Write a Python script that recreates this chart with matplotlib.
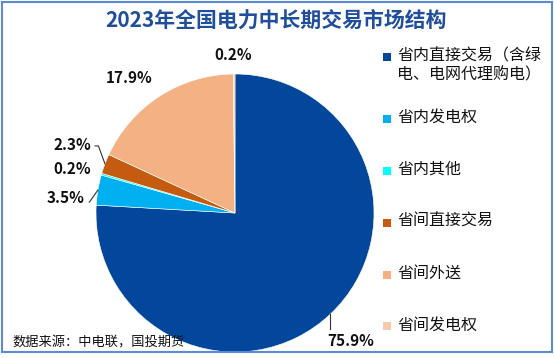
import numpy as np
import matplotlib
matplotlib.use("Agg")
import matplotlib.pyplot as plt
from matplotlib.patches import Rectangle

plt.rcParams['font.family'] = ['Noto Sans CJK SC', 'DejaVu Sans']

# data
categories = ["省内直接交易（含绿\n电、电网代理购电）", "省内发电权", "省内其他",
              "省间直接交易", "省间外送", "省间发电权"]
shares = [75.9, 3.5, 0.2, 2.3, 17.9, 0.2]
colors = ["#03479C", "#00B0F0", "#00FFFF", "#C55A11", "#F4B183", "#F8CBAD"]

# label placement (polar: radius factor, angle offset in degrees from wedge middle)
label_pos = [(1.243, -1.2), (1.221, 4.5), (1.215, 1.1), (1.271, -1.9), (1.235, 5.3), (1.137, 0.3)]
leader = ["down", "right", None, "right_bend", None, None]

W, H = 554, 358
fig = plt.figure(figsize=(W / 100, H / 100), dpi=100)

cx, cy, r = 235, 213, 139
ax = fig.add_axes([(cx - r) / W, (H - cy - r) / H, 2 * r / W, 2 * r / H])
wedges, _ = ax.pie(shares, colors=colors, startangle=90, counterclock=False,
                   radius=1.0, wedgeprops=dict(edgecolor="white", linewidth=0.4))
ax.set_xlim(-1, 1)
ax.set_ylim(-1, 1)
ax.set_aspect("equal")
ax.axis("off")

for w, v, (dist, dang), ld in zip(wedges, shares, label_pos, leader):
    mid = np.deg2rad((w.theta1 + w.theta2) / 2)
    lab = mid + np.deg2rad(dang)
    tx, ty = dist * np.cos(lab), dist * np.sin(lab)
    ex, ey = np.cos(mid), np.sin(mid)
    txt = f"{v:.1f}%"
    kw = dict(fontsize=11, fontweight="bold", color="#111111",
              ha="center", va="center", annotation_clip=False)
    if ld == "down":
        ax.annotate(txt, xy=(ex, ey), xytext=(tx, ty), **kw)
        ax.plot([ex, ex], [ey, ty + 0.09], color="#333333", lw=0.8, clip_on=False)
    elif ld == "right":
        ax.annotate(txt, xy=(ex, ey), xytext=(tx, ty),
                    arrowprops=dict(arrowstyle="-", color="#333333", lw=0.8,
                                    relpos=(1.0, 0.25), shrinkA=1, shrinkB=0,
                                    connectionstyle="angle,angleA=0,angleB=55,rad=0"),
                    **kw)
    elif ld == "right_bend":
        ax.annotate(txt, xy=(ex, ey), xytext=(tx, ty),
                    arrowprops=dict(arrowstyle="-", color="#333333", lw=0.8,
                                    relpos=(1.0, 0.45), shrinkA=1, shrinkB=0,
                                    connectionstyle="angle,angleA=0,angleB=110,rad=0"),
                    **kw)
    else:
        ax.annotate(txt, xy=(ex, ey), xytext=(tx, ty), **kw)

# title
fig.text(276 / W, 1 - 20 / H, "2023年全国电力中长期交易市场结构", ha="center", va="center",
         fontsize=15, fontweight="bold", color="#1F4E9C")

# legend, drawn by hand to match spacing
y0, step = 57, 51.8
for i, (name, c) in enumerate(zip(categories, colors)):
    y = y0 + (i + (0.2 if i > 0 else 0)) * step
    fig.patches.append(Rectangle((383 / W, 1 - (y + 4) / H), 8 / W, 8 / H,
                                 transform=fig.transFigure, facecolor=c, edgecolor="none"))
    fig.text(397 / W, 1 - (y - 10) / H, name, ha="left", va="top", fontsize=11.5,
             color="#111111", linespacing=1.2)

fig.text(12 / W, 1 - 343 / H, "数据来源：中电联，国投期货", ha="left", va="center",
         fontsize=9.5, color="#111111")

fig.patches.append(Rectangle((2 / W, 6 / H), 550 / W, 350 / H, transform=fig.transFigure,
                             facecolor="none", edgecolor="#5B8BD0", linewidth=1.5))

fig.savefig("out.png", dpi=100)
